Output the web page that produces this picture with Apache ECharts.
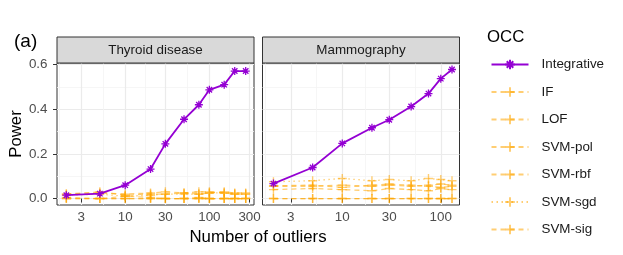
<!DOCTYPE html>
<html><head><meta charset="utf-8">
<script src="https://cdn.jsdelivr.net/npm/echarts@6/dist/echarts.min.js"></script>
<style>html,body{margin:0;padding:0;background:#fff}#c{width:623px;height:255px}</style>
</head><body><div id="c"></div>
<script>
// ---------- data ----------
const methods = ['Integrative','IF','LOF','SVM-pol','SVM-rbf','SVM-sgd','SVM-sig'];
const panelTitles = ['Thyroid disease','Mammography'];

const xThyroid = [2,5,10,20,30,50,75,100,150,200,270];
const thyIntegrative = [0.015,0.022,0.060,0.132,0.245,0.355,0.420,0.487,0.510,0.571,0.571];
const thyIF      = [0.005,0.000,0.000,0.000,0.000,0.000,0.000,0.000,0.000,0.000,0.000];
const thyLOF     = [0.020,0.025,0.020,0.025,0.030,0.025,0.020,0.025,0.030,0.025,0.025];
const thySVMpol  = [0.000,0.000,0.010,0.005,0.000,0.000,0.005,0.000,0.000,0.000,0.000];
const thySVMrbf  = [0.020,0.030,0.015,0.020,0.020,0.025,0.030,0.030,0.025,0.020,0.020];
const thySVMsgd  = [0.015,0.020,0.010,0.015,0.020,0.020,0.020,0.025,0.025,0.020,0.020];
const thySVMsig  = [0.000,0.000,0.000,0.000,0.000,0.000,0.000,0.000,0.000,0.000,0.000];

const xMammo = [2,5,10,20,30,50,75,100,130];
const mamIntegrative = [0.067,0.139,0.247,0.317,0.353,0.412,0.470,0.537,0.578];
const mamIF      = [0.000,0.000,0.000,0.000,0.000,0.000,0.000,0.000,0.000];
const mamLOF     = [0.055,0.055,0.060,0.055,0.060,0.055,0.060,0.065,0.060];
const mamSVMpol  = [0.040,0.045,0.040,0.035,0.045,0.040,0.035,0.045,0.040];
const mamSVMrbf  = [0.057,0.060,0.050,0.060,0.065,0.060,0.055,0.050,0.055];
const mamSVMsgd  = [0.075,0.080,0.090,0.080,0.085,0.080,0.090,0.085,0.080];
const mamSVMsig  = [0.000,0.000,0.000,0.000,0.000,0.000,0.000,0.000,0.000];

const xMajorTicks = [3,10,30,100,300];
const xMinorTicks = [1.64,5.48,17.3,54.8,173];
const yMajorTicks = [0,0.2,0.4,0.6];
const yMinorTicks = [0.1,0.3,0.5];

// ---------- styling ----------
const FONT = '"Liberation Sans", Arial, sans-serif';
const PURPLE = '#9400D3';
const ORANGE = 'rgba(255,165,0,0.55)';
const ASTERISK = 'path://M0 5L10 5M5 0L5 10M1.6 1.6L8.4 8.4M1.6 8.4L8.4 1.6';
const PLUS = 'path://M0 5L10 5M5 0L5 10';
const dash = {'Integrative':'solid','IF':[5,4],'LOF':[5,4],'SVM-pol':[5,4],'SVM-rbf':[5,4],'SVM-sgd':[1.5,3.5],'SVM-sig':[5,4]};

const panels = [
  {x: xThyroid, vals: [thyIntegrative,thyIF,thyLOF,thySVMpol,thySVMrbf,thySVMsgd,thySVMsig], left: 57, xmin: Math.pow(10,0.19), xmax: Math.pow(10,2.53)},
  {x: xMammo, vals: [mamIntegrative,mamIF,mamLOF,mamSVMpol,mamSVMrbf,mamSVMsgd,mamSVMsig], left: 262.5, xmin: Math.pow(10,0.19), xmax: Math.pow(10,2.19)}
];
const GTOP = 63, GH = 142, GW = 197;
const YMIN = -0.0289, YMAX = 0.607;

const grids = [], xAxes = [], yAxes = [], series = [];
panels.forEach((p, pi) => {
  grids.push({left: p.left, top: GTOP, width: GW, height: GH, show: true, borderColor: '#333', borderWidth: 1, backgroundColor: 'transparent', containLabel: false});
  // major x
  xAxes.push({type: 'log', gridIndex: pi, min: p.xmin, max: p.xmax, position: 'bottom',
    axisLine: {show: false},
    axisTick: {show: true, length: 4, customValues: xMajorTicks, lineStyle: {color: '#333', width: 1}},
    axisLabel: {show: true, customValues: xMajorTicks, margin: 6, color: '#4D4D4D', fontSize: 13.4, fontFamily: FONT, formatter: v => String(Math.round(v))},
    splitLine: {show: true, lineStyle: {color: '#EBEBEB', width: 1.2}}});
  // minor x
  xAxes.push({type: 'log', gridIndex: pi, min: p.xmin, max: p.xmax, position: 'bottom',
    axisLine: {show: false}, axisLabel: {show: false},
    axisTick: {show: false, customValues: xMinorTicks},
    splitLine: {show: true, lineStyle: {color: '#F4F4F4', width: 0.8}}});
  // major y
  yAxes.push({type: 'value', gridIndex: pi, min: YMIN, max: YMAX,
    axisLine: {show: false},
    axisTick: {show: pi === 0, length: 4, customValues: yMajorTicks, lineStyle: {color: '#333', width: 1}},
    axisLabel: {show: pi === 0, customValues: yMajorTicks, margin: 9.5, color: '#4D4D4D', fontSize: 13.4, fontFamily: FONT, formatter: v => v.toFixed(1)},
    splitLine: {show: true, lineStyle: {color: '#EBEBEB', width: 1.2}}});
  // minor y
  yAxes.push({type: 'value', gridIndex: pi, min: YMIN, max: YMAX,
    axisLine: {show: false}, axisLabel: {show: false},
    axisTick: {show: false, customValues: yMinorTicks},
    splitLine: {show: true, lineStyle: {color: '#F4F4F4', width: 0.8}}});

  methods.forEach((m, mi) => {
    const isInt = m === 'Integrative';
    const col = isInt ? PURPLE : ORANGE;
    series.push({
      type: 'line', name: m, xAxisIndex: pi * 2, yAxisIndex: pi * 2,
      data: p.x.map((xv, i) => [xv, p.vals[mi][i]]),
      symbol: isInt ? ASTERISK : PLUS,
      symbolSize: isInt ? 8 : 9,
      showAllSymbol: true,
      z: isInt ? 3 : 2,
      lineStyle: {color: col, width: isInt ? 1.8 : 1.3, type: dash[m]},
      itemStyle: {color: col, borderColor: col, borderWidth: isInt ? 1.3 : 1.4},
      emphasis: {disabled: true},
      animation: false
    });
  });
});

const graphics = [];
panels.forEach((p, pi) => {
  graphics.push({type: 'rect', shape: {x: p.left, y: 37, width: GW, height: 26}, style: {fill: '#D9D9D9', stroke: '#333', lineWidth: 1}, z: 10});
  graphics.push({type: 'text', x: p.left + GW / 2, y: 50.5, style: {text: panelTitles[pi], fill: '#1A1A1A', font: '13.4px ' + FONT, textAlign: 'center', textVerticalAlign: 'middle'}, z: 11});
});
graphics.push({type: 'text', x: 14, y: 42, style: {text: '(a)', fill: '#000', font: '19px ' + FONT, textAlign: 'left', textVerticalAlign: 'middle'}});
graphics.push({type: 'text', x: 16, y: 134, rotation: Math.PI / 2, style: {text: 'Power', fill: '#000', font: '16.8px ' + FONT, textAlign: 'center', textVerticalAlign: 'middle'}});
graphics.push({type: 'text', x: 258, y: 237.5, style: {text: 'Number of outliers', fill: '#000', font: '16.8px ' + FONT, textAlign: 'center', textVerticalAlign: 'middle'}});
graphics.push({type: 'text', x: 487, y: 37, style: {text: 'OCC', fill: '#000', font: '16.8px ' + FONT, textAlign: 'left', textVerticalAlign: 'middle'}});

const chart = echarts.init(document.getElementById('c'), null, {renderer: 'canvas'});
chart.setOption({
  animation: false,
  backgroundColor: '#fff',
  grid: grids, xAxis: xAxes, yAxis: yAxes, series: series,
  legend: {
    data: methods, orient: 'vertical', left: 490.5, top: 58, padding: 0,
    itemWidth: 37, itemHeight: 12, itemGap: 14.5,
    selectedMode: false,
    textStyle: {fontFamily: FONT, fontSize: 13.4, color: '#1A1A1A', padding: [0, 0, 0, 8]}
  },
  graphic: graphics
});
</script>
</body></html>
